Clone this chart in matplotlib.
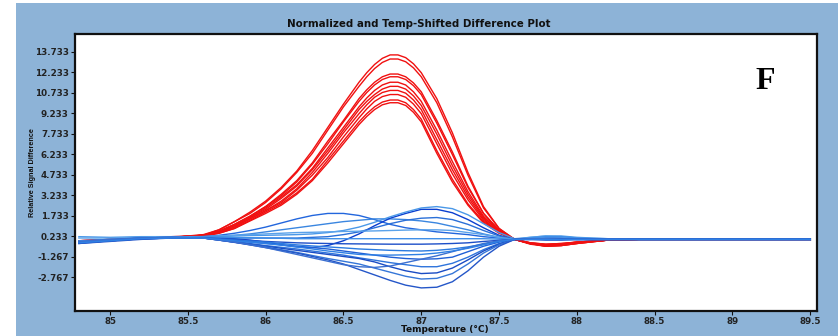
import matplotlib
matplotlib.use('Agg')
import matplotlib.pyplot as plt
from matplotlib.patches import Rectangle

# temperature grid (deg C)
temps = [84.8, 85.0, 85.2, 85.4, 85.6, 85.7, 85.8, 85.9, 86.0, 86.1, 86.2, 86.3, 86.4, 86.5, 86.6,
         86.7, 86.8, 86.9, 87.0, 87.1, 87.2, 87.3, 87.4, 87.5, 87.6, 87.7, 87.8, 87.9, 88.0,
         88.2, 88.4, 89.5]
# red curves are read a bit finer around the peak
red_temps = [84.8, 85.0, 85.2, 85.4, 85.6, 85.7, 85.8, 85.9, 86.0, 86.1, 86.2, 86.3, 86.4, 86.5, 86.6,
             86.65, 86.7, 86.75, 86.8, 86.85, 86.9, 86.95, 87.0, 87.1, 87.2, 87.3, 87.4, 87.5, 87.6,
             87.7, 87.8, 87.9, 88.0, 88.2, 88.4, 89.5]

# red group (peaks ~10 - 13.5)
red_curves = [
    [-0.2, -0.05, 0.1, 0.15, 0.35, 0.7, 1.3, 2.0, 2.8, 3.8, 5.0, 6.5, 8.2, 9.9, 11.5, 12.2, 12.8, 13.25, 13.5, 13.5, 13.3, 12.85, 12.2, 10.3, 7.8, 4.9, 2.4, 0.8, 0.0, -0.3, -0.45, -0.4, -0.25, -0.05, 0.0, 0.0],
    [-0.15, 0.0, 0.1, 0.15, 0.3, 0.7, 1.3, 1.9, 2.7, 3.7, 4.9, 6.3, 8.0, 9.7, 11.2, 11.9, 12.5, 12.95, 13.2, 13.2, 13.0, 12.55, 11.9, 10.0, 7.5, 4.7, 2.3, 0.8, 0.0, -0.3, -0.45, -0.4, -0.25, -0.05, 0.0, 0.0],
    [-0.2, -0.05, 0.05, 0.15, 0.3, 0.6, 1.1, 1.7, 2.4, 3.3, 4.3, 5.6, 7.2, 8.7, 10.3, 10.95, 11.5, 11.9, 12.1, 12.1, 11.9, 11.45, 10.8, 8.7, 6.4, 3.9, 1.9, 0.7, 0.0, -0.35, -0.5, -0.45, -0.3, -0.05, 0.0, 0.0],
    [-0.1, 0.0, 0.1, 0.15, 0.3, 0.6, 1.1, 1.7, 2.4, 3.2, 4.2, 5.5, 7.0, 8.6, 10.1, 10.75, 11.3, 11.7, 11.9, 11.9, 11.7, 11.25, 10.6, 8.5, 6.2, 3.8, 1.9, 0.6, 0.0, -0.3, -0.4, -0.35, -0.2, -0.05, 0.0, 0.0],
    [-0.15, -0.05, 0.1, 0.2, 0.3, 0.55, 1.0, 1.6, 2.3, 3.1, 4.0, 5.2, 6.7, 8.2, 9.7, 10.35, 10.9, 11.3, 11.5, 11.5, 11.3, 10.8, 10.1, 8.0, 5.7, 3.5, 1.7, 0.6, 0.0, -0.3, -0.5, -0.45, -0.3, -0.05, 0.0, 0.0],
    [-0.2, -0.05, 0.1, 0.15, 0.3, 0.55, 1.0, 1.6, 2.2, 3.0, 3.9, 5.1, 6.5, 8.0, 9.5, 10.1, 10.6, 11.0, 11.2, 11.2, 11.0, 10.5, 9.8, 7.7, 5.4, 3.3, 1.6, 0.6, 0.0, -0.25, -0.35, -0.3, -0.2, -0.05, 0.0, 0.0],
    [-0.1, 0.0, 0.1, 0.15, 0.3, 0.5, 0.9, 1.5, 2.1, 2.8, 3.7, 4.9, 6.3, 7.8, 9.2, 9.85, 10.4, 10.75, 10.9, 10.9, 10.7, 10.2, 9.5, 7.3, 5.1, 3.1, 1.5, 0.5, 0.0, -0.3, -0.45, -0.4, -0.25, -0.05, 0.0, 0.0],
    [-0.15, -0.05, 0.1, 0.15, 0.25, 0.5, 0.9, 1.5, 2.1, 2.7, 3.6, 4.7, 6.0, 7.5, 8.9, 9.55, 10.1, 10.45, 10.6, 10.6, 10.4, 9.9, 9.2, 7.0, 4.8, 2.9, 1.4, 0.5, 0.0, -0.25, -0.4, -0.35, -0.2, -0.05, 0.0, 0.0],
    [-0.2, -0.05, 0.05, 0.15, 0.25, 0.45, 0.8, 1.4, 2.0, 2.6, 3.4, 4.4, 5.8, 7.2, 8.6, 9.2, 9.7, 10.05, 10.2, 10.2, 10.0, 9.5, 8.8, 6.5, 4.4, 2.6, 1.3, 0.5, 0.0, -0.3, -0.5, -0.45, -0.3, -0.05, 0.0, 0.0],
    [-0.1, 0.0, 0.1, 0.15, 0.25, 0.45, 0.8, 1.35, 1.9, 2.5, 3.3, 4.3, 5.6, 7.0, 8.4, 9.0, 9.5, 9.85, 10.0, 10.0, 9.8, 9.3, 8.6, 6.3, 4.2, 2.5, 1.2, 0.45, 0.0, -0.25, -0.35, -0.3, -0.2, -0.05, 0.0, 0.0],
]

# blue group
blue_curves = [
    [-0.15, -0.05, 0.1, 0.15, 0.2, 0.3, 0.45, 0.65, 0.9, 1.2, 1.5, 1.75, 1.9, 1.9, 1.75, 1.45, 1.1, 0.85, 0.7, 0.55, 0.45, 0.35, 0.2, 0.1, 0.0, 0.05, 0.05, 0.05, 0.0, 0.0, 0.0, 0.0],
    [-0.2, -0.05, 0.1, 0.15, 0.2, 0.25, 0.3, 0.4, 0.55, 0.7, 0.85, 1.0, 1.15, 1.3, 1.4, 1.5, 1.5, 1.45, 1.35, 1.2, 0.95, 0.7, 0.4, 0.15, 0.0, 0.05, 0.1, 0.1, 0.05, 0.0, 0.0, 0.0],
    [-0.2, -0.1, 0.05, 0.1, 0.15, 0.1, 0.05, -0.05, -0.2, -0.4, -0.55, -0.6, -0.45, -0.1, 0.4, 1.0, 1.55, 1.9, 2.2, 2.2, 1.95, 1.45, 0.85, 0.3, 0.0, 0.0, 0.05, 0.05, 0.0, 0.0, 0.0, 0.0],
    [0.2, 0.15, 0.2, 0.2, 0.2, 0.22, 0.25, 0.28, 0.3, 0.32, 0.35, 0.4, 0.5, 0.65, 0.9, 1.25, 1.65, 2.0, 2.3, 2.4, 2.25, 1.8, 1.15, 0.5, 0.05, 0.15, 0.25, 0.25, 0.15, 0.05, 0.0, 0.0],
    [-0.15, 0.0, 0.1, 0.15, 0.15, 0.12, 0.1, 0.1, 0.1, 0.1, 0.1, 0.15, 0.2, 0.35, 0.55, 0.85, 1.15, 1.4, 1.55, 1.6, 1.45, 1.1, 0.65, 0.25, 0.0, 0.05, 0.1, 0.1, 0.05, 0.0, 0.0, 0.0],
    [0.1, 0.1, 0.15, 0.2, 0.2, 0.25, 0.3, 0.35, 0.4, 0.45, 0.5, 0.52, 0.55, 0.58, 0.6, 0.62, 0.65, 0.68, 0.7, 0.7, 0.65, 0.5, 0.35, 0.15, 0.0, 0.15, 0.25, 0.2, 0.1, 0.05, 0.0, 0.0],
    [-0.1, 0.0, 0.1, 0.15, 0.2, 0.18, 0.15, 0.12, 0.1, 0.08, 0.05, 0.05, 0.05, 0.05, 0.05, 0.05, 0.05, 0.05, 0.05, 0.05, 0.05, 0.05, 0.05, 0.02, 0.0, 0.1, 0.2, 0.2, 0.1, 0.0, 0.0, 0.0],
    [-0.2, -0.05, 0.1, 0.15, 0.1, 0.05, 0.0, -0.08, -0.15, -0.2, -0.25, -0.28, -0.3, -0.32, -0.33, -0.34, -0.35, -0.35, -0.35, -0.33, -0.3, -0.25, -0.15, -0.07, 0.0, 0.0, -0.05, -0.05, 0.0, 0.0, 0.0, 0.0],
    [-0.25, -0.1, 0.05, 0.1, 0.1, 0.02, -0.05, -0.12, -0.2, -0.3, -0.4, -0.48, -0.55, -0.62, -0.7, -0.75, -0.8, -0.83, -0.85, -0.8, -0.7, -0.55, -0.35, -0.15, 0.0, 0.05, 0.0, 0.0, 0.0, 0.0, 0.0, 0.0],
    [-0.3, -0.1, 0.05, 0.1, 0.1, 0.0, -0.1, -0.2, -0.3, -0.4, -0.5, -0.6, -0.7, -0.85, -1.0, -1.15, -1.3, -1.4, -1.45, -1.42, -1.3, -0.9, -0.5, -0.2, 0.0, 0.05, 0.05, 0.0, 0.0, 0.0, 0.0, 0.0],
    [-0.2, -0.05, 0.1, 0.15, 0.1, 0.0, -0.12, -0.3, -0.45, -0.58, -0.7, -0.85, -1.0, -1.15, -1.35, -1.52, -1.7, -1.85, -2.0, -2.0, -1.75, -1.3, -0.75, -0.3, 0.0, 0.0, 0.05, 0.05, 0.0, 0.0, 0.0, 0.0],
    [-0.25, -0.1, 0.05, 0.1, 0.1, -0.05, -0.2, -0.35, -0.5, -0.65, -0.8, -0.95, -1.1, -1.25, -1.4, -1.65, -2.0, -2.3, -2.5, -2.45, -2.1, -1.5, -0.85, -0.35, 0.0, 0.0, 0.0, 0.0, 0.0, 0.0, 0.0, 0.0],
    [-0.2, -0.05, 0.1, 0.15, 0.1, -0.05, -0.2, -0.38, -0.55, -0.75, -0.95, -1.18, -1.4, -1.6, -1.8, -2.1, -2.4, -2.7, -2.9, -2.85, -2.5, -1.8, -1.0, -0.4, 0.0, 0.0, 0.0, 0.0, 0.0, 0.0, 0.0, 0.0],
    [-0.3, -0.15, 0.0, 0.1, 0.1, -0.05, -0.22, -0.4, -0.6, -0.8, -1.0, -1.25, -1.5, -1.8, -2.2, -2.6, -3.0, -3.35, -3.55, -3.5, -3.1, -2.3, -1.3, -0.5, 0.0, 0.05, 0.05, 0.05, 0.0, 0.0, 0.0, 0.0],
    [-0.15, 0.0, 0.1, 0.15, 0.1, -0.05, -0.2, -0.4, -0.6, -0.85, -1.1, -1.35, -1.6, -1.85, -2.0, -2.05, -1.95, -1.7, -1.45, -1.2, -0.9, -0.6, -0.3, -0.1, 0.0, 0.05, 0.05, 0.0, 0.0, 0.0, 0.0, 0.0],
    [-0.25, -0.1, 0.05, 0.1, 0.1, 0.0, -0.1, -0.2, -0.3, -0.42, -0.55, -0.7, -0.85, -0.98, -1.1, -1.14, -1.15, -1.13, -1.1, -1.0, -0.85, -0.65, -0.4, -0.15, 0.0, 0.0, 0.0, 0.0, 0.0, 0.0, 0.0, 0.0],
]

blue_colors = ['#2266dd', '#3a86e0', '#0b3fcf', '#4a98e8', '#2a6fd8', '#5aa2ea', '#3d8ee8', '#1d4fc8',
               '#2b7be0', '#1f5fd6', '#2e74dc', '#1a4cc4', '#3576d8', '#2456c8', '#3b6fd0', '#2f80e4']

xticks = [85, 85.5, 86, 86.5, 87, 87.5, 88, 88.5, 89, 89.5]
xtick_labels = ['85', '85.5', '86', '86.5', '87', '87.5', '88', '88.5', '89', '89.5']
yticks = [13.733, 12.233, 10.733, 9.233, 7.733, 6.233, 4.733, 3.233, 1.733, 0.233, -1.267, -2.767]
ytick_labels = ['13.733', '12.233', '10.733', '9.233', '7.733', '6.233', '4.733', '3.233',
                '1.733', '0.233', '-1.267', '-2.767']

W, H = 838, 336
fig = plt.figure(figsize=(W / 100, H / 100), dpi=100, facecolor='white')
# blue-grey window panel, kept behind the axes
fig.patches.append(Rectangle((16 / W, 0), 1, (H - 3.3) / H, transform=fig.transFigure,
                             facecolor='#8db3d7', edgecolor='none', zorder=-10))

ax = fig.add_axes([75 / W, (H - 311) / H, (817 - 75) / W, (311 - 34) / H])
ax.set_zorder(5)
ax.set_facecolor('white')

for c in red_curves:
    ax.plot(red_temps, c, color='#f01010', lw=1.0)
for c, col in zip(blue_curves, blue_colors):
    ax.plot(temps, c, color=col, lw=1.0)

ax.set_xlim(84.775, 89.543)
ax.set_ylim(-5.24, 15.03)
ax.set_xticks(xticks)
ax.set_xticklabels(xtick_labels)
ax.set_yticks(yticks)
ax.set_yticklabels(ytick_labels)
ax.tick_params(direction='out', length=3, width=0.8, pad=1.5, colors='#111111')
for lab in ax.get_xticklabels() + ax.get_yticklabels():
    lab.set_fontsize(6.3)
    lab.set_fontweight('bold')
    lab.set_color('#222222')
for s in ax.spines.values():
    s.set_linewidth(1.6)
    s.set_color('#111111')

fig.text(0.5, (H - 24) / H, 'Normalized and Temp-Shifted Difference Plot', ha='center', va='center',
         fontsize=7.4, fontweight='bold', color='#111111')
fig.text(32 / W, (H - 172.5) / H, 'Relative Signal Difference', rotation=90, ha='center', va='center',
         fontsize=5.2, fontweight='bold', family='Liberation Sans', color='#111111')
fig.text(445 / W, (H - 330) / H, 'Temperature (°C)', ha='center', va='center',
         fontsize=6.5, fontweight='bold', color='#111111')
ax.text(0.93, 0.83, 'F', transform=ax.transAxes, ha='center', va='center',
        fontsize=23, fontweight='bold', family='Liberation Serif', color='black')

fig.savefig('out.png', dpi=100, facecolor=fig.get_facecolor())
